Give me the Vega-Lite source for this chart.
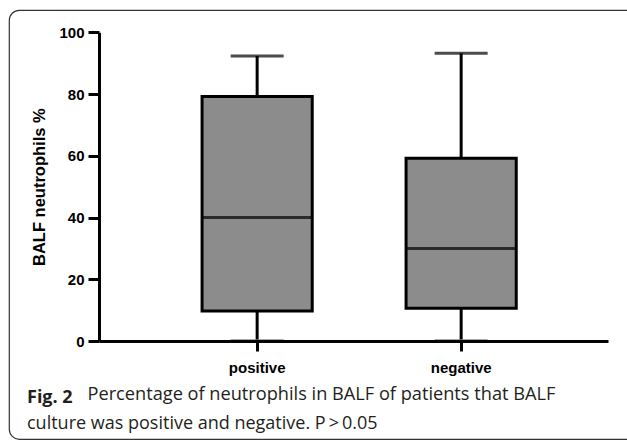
{
  "$schema": "https://vega.github.io/schema/vega-lite/v6.json",
  "width": 640,
  "height": 429,
  "autosize": {"type": "none"},
  "padding": {"left": 9, "top": 10, "right": -22, "bottom": 1},
  "background": "white",
  "config": {
    "view": {"stroke": "#333333", "strokeWidth": 1.2, "cornerRadius": 10, "fill": "white"},
    "axisY": {
      "offset": -90,
      "zindex": 1,
      "grid": false,
      "titleFont": "Liberation Sans",
      "titleFontWeight": "bold",
      "titleFontSize": 16.5,
      "titleColor": "black",
      "titlePadding": 11,
      "labelFont": "Liberation Sans",
      "labelFontWeight": "bold",
      "labelFontSize": 15,
      "labelColor": "black",
      "labelPadding": 4,
      "domainColor": "black",
      "domainWidth": 3,
      "tickColor": "black",
      "tickWidth": 3,
      "tickSize": 11,
      "tickCount": 5
    }
  },
  "title": {
    "text": "Fig. 2",
    "subtitle": "culture was positive and negative. P\u2009>\u20090.05",
    "orient": "bottom",
    "anchor": "start",
    "frame": "group",
    "align": "left",
    "dx": 18,
    "offset": -50,
    "font": "Open Sans",
    "fontSize": 18,
    "fontWeight": "bold",
    "color": "#231f20",
    "subtitleFont": "Open Sans",
    "subtitleFontSize": 18,
    "subtitleFontWeight": "normal",
    "subtitleColor": "#231f20",
    "subtitlePadding": 8
  },
  "data": {
    "values": [
      {"group": "positive", "min": 0, "q1": 9.7, "median": 40, "q3": 79.2, "max": 92.3},
      {"group": "negative", "min": 0, "q1": 10.6, "median": 30, "q3": 59.2, "max": 93.2}
    ]
  },
  "encoding": {
    "x": {
      "field": "group",
      "type": "nominal",
      "sort": ["positive", "negative"],
      "scale": {"range": [90, 599], "paddingInner": 0.46, "paddingOuter": 0.4775, "align": 0.529},
      "axis": {
        "orient": "bottom",
        "offset": -98,
        "zindex": 1,
        "title": "Percentage of neutrophils in BALF of patients that BALF",
        "titleFont": "Open Sans",
        "titleFontWeight": "normal",
        "titleFontSize": 18.2,
        "titleColor": "#231f20",
        "titleX": 78,
        "titleY": 58,
        "titleAlign": "left",
        "titleBaseline": "alphabetic",
        "titleAngle": 0,
        "labelAngle": 0,
        "labelFont": "Liberation Sans",
        "labelFontWeight": "bold",
        "labelFontSize": 15,
        "labelColor": "black",
        "labelPadding": 9,
        "domainColor": "black",
        "domainWidth": 3,
        "tickColor": "black",
        "tickWidth": 3,
        "tickSize": 10,
        "grid": false
      }
    }
  },
  "layer": [
    {
      "mark": {"type": "rule", "color": "black", "strokeWidth": 3},
      "encoding": {
        "y": {
          "field": "min",
          "type": "quantitative",
          "title": "BALF neutrophils %",
          "scale": {"domain": [0, 100], "range": [331, 22.3], "nice": false}
        },
        "y2": {"field": "max"}
      }
    },
    {
      "mark": {"type": "tick", "color": "#888888", "thickness": 4, "size": 53},
      "encoding": {"y": {"field": "min", "type": "quantitative", "title": "BALF neutrophils %"}}
    },
    {
      "mark": {"type": "tick", "color": "black", "thickness": 3, "size": 53},
      "encoding": {"y": {"field": "max", "type": "quantitative", "title": "BALF neutrophils %"}}
    },
    {
      "mark": {"type": "bar", "fill": "#8c8c8c", "stroke": "black", "strokeWidth": 3},
      "encoding": {
        "y": {"field": "q1", "type": "quantitative", "title": "BALF neutrophils %"},
        "y2": {"field": "q3"}
      }
    },
    {
      "mark": {"type": "tick", "color": "black", "thickness": 3, "size": 110},
      "encoding": {"y": {"field": "median", "type": "quantitative", "title": "BALF neutrophils %"}}
    }
  ]
}
